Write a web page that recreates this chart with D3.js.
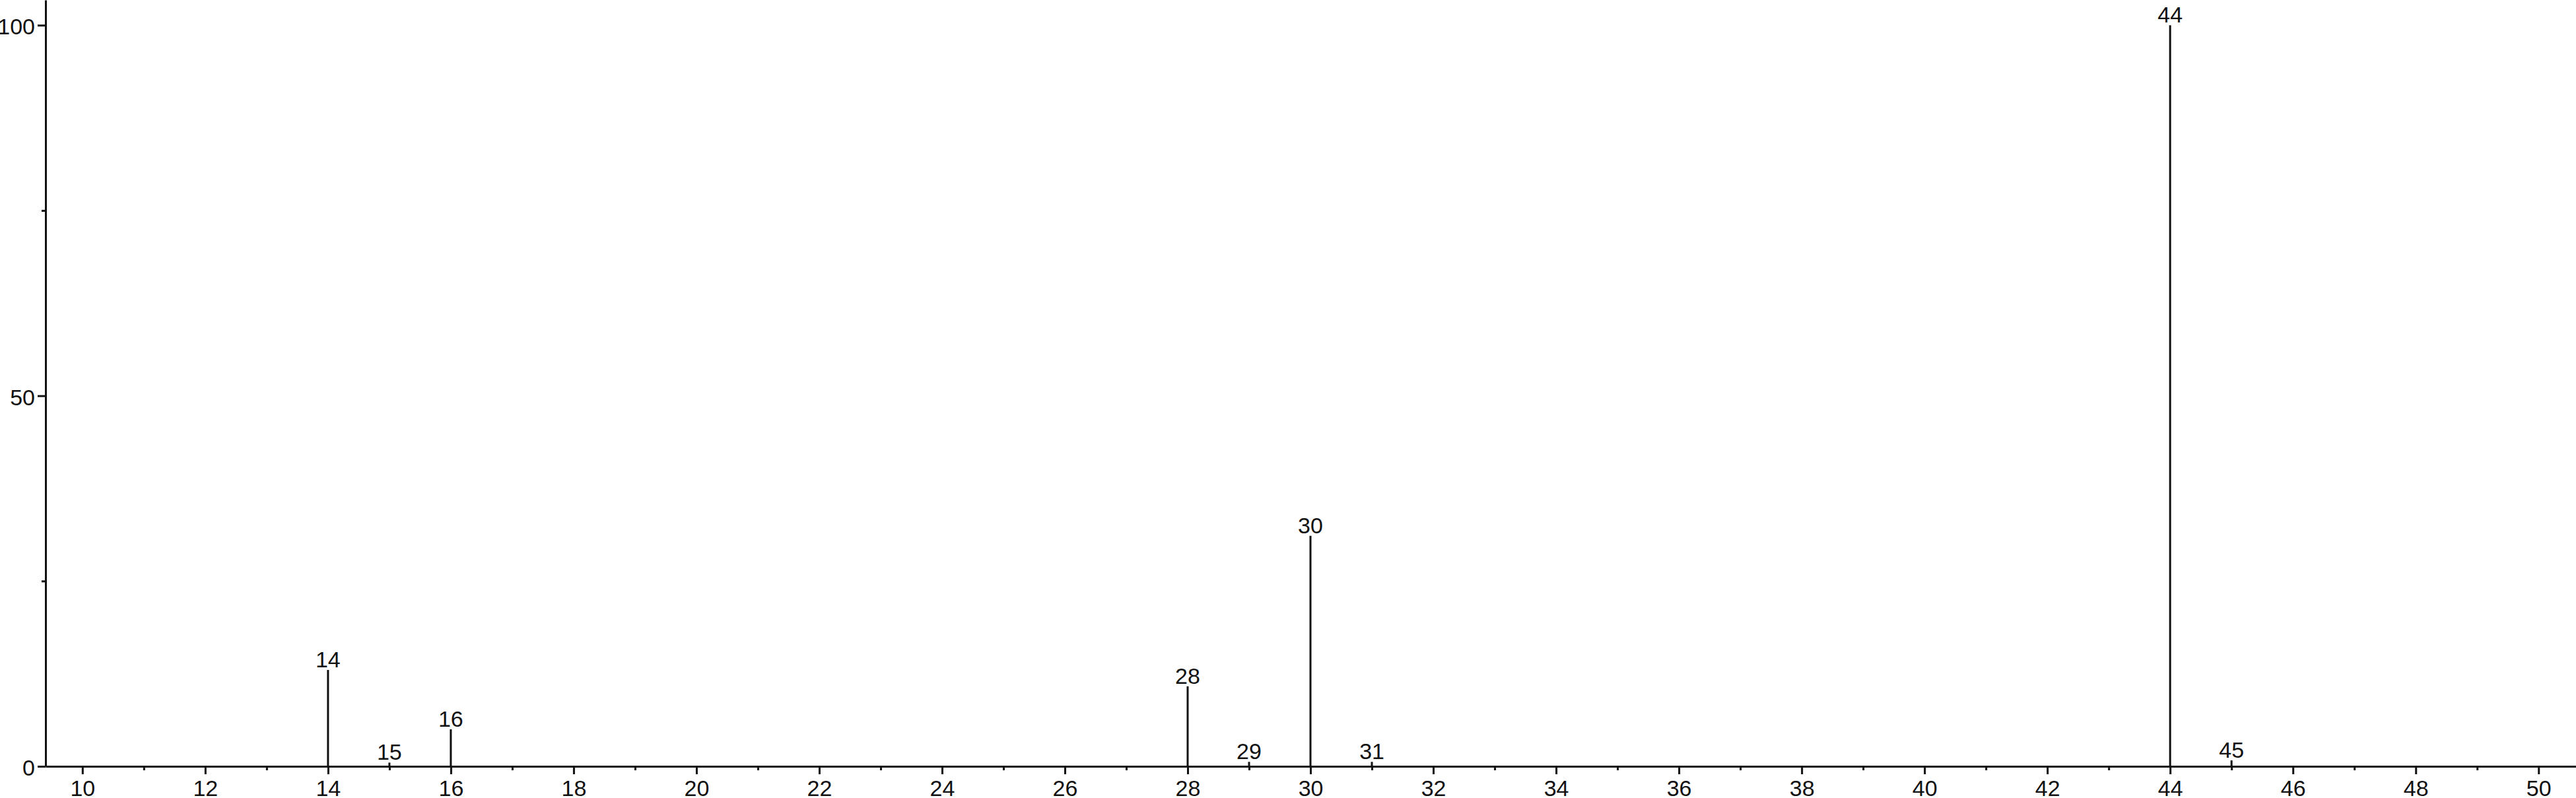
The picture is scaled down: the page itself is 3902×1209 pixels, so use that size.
<!DOCTYPE html>
<html>
<head>
<meta charset="utf-8">
<script src="https://cdn.jsdelivr.net/npm/d3@7"></script>
<style>
  body { margin: 0; background: #fff; }
  svg { display: block; }
  text { font-family: "Liberation Sans", Arial, sans-serif; fill: #111; }
</style>
</head>
<body>
<svg width="3902" height="1209"></svg>
<script>
// peaks (m/z and relative intensity)
const mz = [14, 15, 16, 28, 29, 30, 31, 44, 45];
const intensity = [13.0, 0.5, 5.0, 10.8, 0.6, 31.1, 0.6, 100, 0.8];

// axis ticks
const xMajorTicks = d3.range(10, 51, 2);
const xMinorTicks = d3.range(11, 50, 2);
const yMajorTicks = [0, 50, 100];
const yMinorTicks = [25, 75];

const svg = d3.select("svg"), width = +svg.attr("width"),
    height = +svg.attr("height");
const margin = {left: 69, top: 0, right: 0, baseline: 1161};
const ink = "#111", fontSize = 34;

const x = d3.scaleLinear()
    .domain([9.4, 50.61])
    .range([margin.left, width - margin.right]);
const y = d3.scaleLinear()
    .domain([0, 103.4])
    .range([margin.baseline, margin.top]);

const g = svg.append("g");

// x axis
const xAxis = g.append("g")
    .attr("transform", `translate(0,${margin.baseline})`)
    .call(d3.axisBottom(x).tickValues(xMajorTicks).tickSize(12)
        .tickPadding(9).tickSizeOuter(0));
g.append("g")
    .attr("transform", `translate(0,${margin.baseline})`)
    .call(d3.axisBottom(x).tickValues(xMinorTicks).tickSize(6)
        .tickFormat(""))
    .call(a => a.select(".domain").remove());

// y axis
const yAxis = g.append("g")
    .attr("transform", `translate(${margin.left},0)`)
    .call(d3.axisLeft(y).tickValues(yMajorTicks).tickSize(12)
        .tickPadding(4).tickSizeOuter(0));
g.append("g")
    .attr("transform", `translate(${margin.left},0)`)
    .call(d3.axisLeft(y).tickValues(yMinorTicks).tickSize(6)
        .tickFormat(""))
    .call(a => a.select(".domain").remove());

g.selectAll(".domain, .tick line")
    .attr("stroke", ink)
    .attr("stroke-width", 3);
g.selectAll(".tick text")
    .attr("fill", ink)
    .style("font-family", '"Liberation Sans", Arial, sans-serif')
    .style("font-size", fontSize + "px");
yAxis.selectAll(".tick text").attr("dy", "0.4em");
xAxis.selectAll(".tick text").attr("dy", "0.7em");

// peaks
const peaks = mz.map((m, i) => ({mz: m, value: intensity[i]}));

g.append("g")
    .selectAll("line")
    .data(peaks)
    .enter().append("line")
    .attr("x1", d => x(d.mz))
    .attr("x2", d => x(d.mz))
    .attr("y1", y(0))
    .attr("y2", d => y(d.value))
    .attr("stroke", ink)
    .attr("stroke-width", 3);

g.append("g")
    .selectAll("text")
    .data(peaks)
    .enter().append("text")
    .attr("x", d => x(d.mz))
    .attr("y", d => y(d.value) - 4)
    .attr("text-anchor", "middle")
    .style("font-size", fontSize + "px")
    .text(d => d.mz);
</script>
</body>
</html>
